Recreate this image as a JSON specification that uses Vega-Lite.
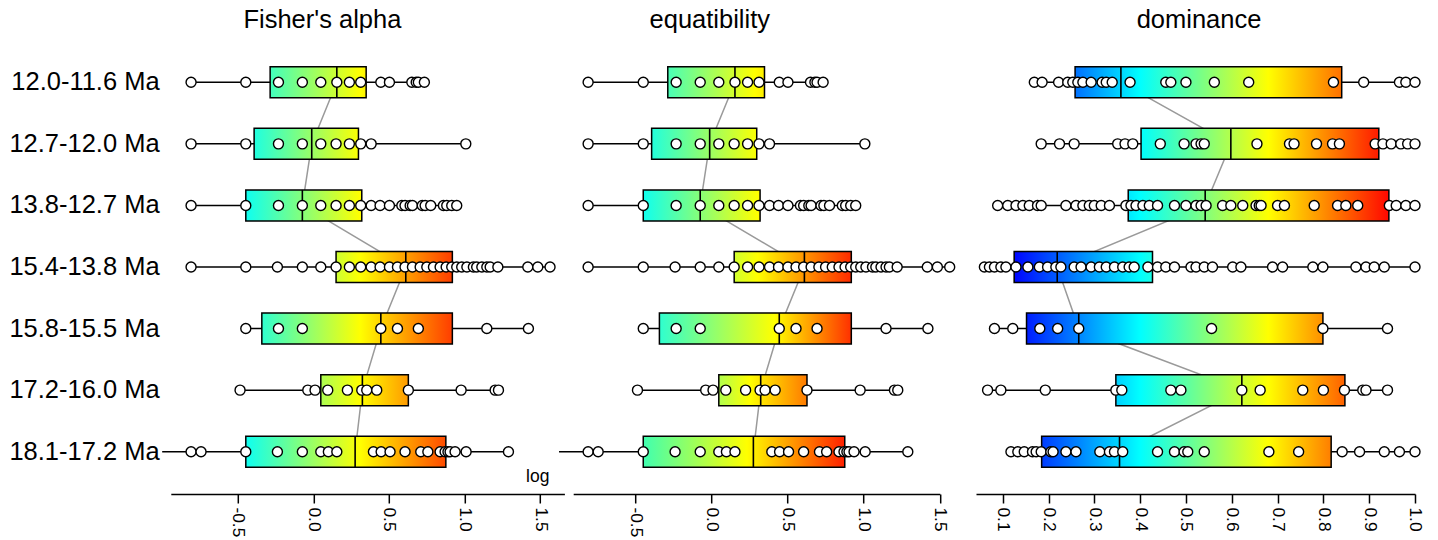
{
  "$schema": "https://vega.github.io/schema/vega-lite/v6.json",
  "padding": {"left": 8.8, "top": 7, "right": 5, "bottom": 0},
  "background": "white",
  "config": {
    "view": {"stroke": null},
    "font": "Liberation Sans",
    "axis": {"grid": false, "domainColor": "black", "domainWidth": 1.5, "tickColor": "black", "tickWidth": 1.5, "tickSize": 9, "labelColor": "black", "labelFont": "Liberation Sans", "labelFontSize": 17.3, "labelPadding": 4, "titleColor": "black"},
    "title": {"font": "Liberation Sans", "fontSize": 25.5, "fontWeight": "normal", "color": "black", "anchor": "middle", "baseline": "alphabetic", "offset": 6.7, "frame": "group"}
  },
  "datasets": {
    "fisherBox": [
      {"row": "12.0-11.6 Ma", "i": 1, "min": -0.809, "q1": -0.286, "median": 0.155, "q3": 0.349, "max": 0.734},
      {"row": "12.7-12.0 Ma", "i": 2, "min": -0.809, "q1": -0.392, "median": -0.011, "q3": 0.298, "max": 1.008},
      {"row": "13.8-12.7 Ma", "i": 3, "min": -0.809, "q1": -0.447, "median": -0.073, "q3": 0.320, "max": 0.948},
      {"row": "15.4-13.8 Ma", "i": 4, "min": -0.809, "q1": 0.150, "median": 0.611, "q3": 0.919, "max": 1.565},
      {"row": "15.8-15.5 Ma", "i": 5, "min": -0.447, "q1": -0.341, "median": 0.446, "q3": 0.919, "max": 1.422},
      {"row": "17.2-16.0 Ma", "i": 6, "min": -0.485, "q1": 0.049, "median": 0.324, "q3": 0.628, "max": 1.224},
      {"row": "18.1-17.2 Ma", "i": 7, "min": -1.0, "q1": -0.447, "median": 0.276, "q3": 0.876, "max": 1.290}
    ],
    "fisherPts": [
      {"row": "12.0-11.6 Ma", "v": -0.809}, {"row": "12.0-11.6 Ma", "v": -0.447}, {"row": "12.0-11.6 Ma", "v": -0.231}, {"row": "12.0-11.6 Ma", "v": -0.073}, {"row": "12.0-11.6 Ma", "v": 0.049}, {"row": "12.0-11.6 Ma", "v": 0.155}, {"row": "12.0-11.6 Ma", "v": 0.238}, {"row": "12.0-11.6 Ma", "v": 0.313}, {"row": "12.0-11.6 Ma", "v": 0.446}, {"row": "12.0-11.6 Ma", "v": 0.503}, {"row": "12.0-11.6 Ma", "v": 0.651}, {"row": "12.0-11.6 Ma", "v": 0.68}, {"row": "12.0-11.6 Ma", "v": 0.694}, {"row": "12.0-11.6 Ma", "v": 0.734},
      {"row": "12.7-12.0 Ma", "v": -0.809}, {"row": "12.7-12.0 Ma", "v": -0.447}, {"row": "12.7-12.0 Ma", "v": -0.231}, {"row": "12.7-12.0 Ma", "v": -0.073}, {"row": "12.7-12.0 Ma", "v": 0.049}, {"row": "12.7-12.0 Ma", "v": 0.150}, {"row": "12.7-12.0 Ma", "v": 0.238}, {"row": "12.7-12.0 Ma", "v": 0.313}, {"row": "12.7-12.0 Ma", "v": 0.382}, {"row": "12.7-12.0 Ma", "v": 1.008},
      {"row": "13.8-12.7 Ma", "v": -0.809}, {"row": "13.8-12.7 Ma", "v": -0.447}, {"row": "13.8-12.7 Ma", "v": -0.231}, {"row": "13.8-12.7 Ma", "v": -0.073}, {"row": "13.8-12.7 Ma", "v": 0.049}, {"row": "13.8-12.7 Ma", "v": 0.150}, {"row": "13.8-12.7 Ma", "v": 0.238}, {"row": "13.8-12.7 Ma", "v": 0.313}, {"row": "13.8-12.7 Ma", "v": 0.382}, {"row": "13.8-12.7 Ma", "v": 0.441}, {"row": "13.8-12.7 Ma", "v": 0.503}, {"row": "13.8-12.7 Ma", "v": 0.585}, {"row": "13.8-12.7 Ma", "v": 0.606}, {"row": "13.8-12.7 Ma", "v": 0.640}, {"row": "13.8-12.7 Ma", "v": 0.655}, {"row": "13.8-12.7 Ma", "v": 0.72}, {"row": "13.8-12.7 Ma", "v": 0.739}, {"row": "13.8-12.7 Ma", "v": 0.776}, {"row": "13.8-12.7 Ma", "v": 0.86}, {"row": "13.8-12.7 Ma", "v": 0.882}, {"row": "13.8-12.7 Ma", "v": 0.915}, {"row": "13.8-12.7 Ma", "v": 0.948},
      {"row": "15.4-13.8 Ma", "v": -0.809}, {"row": "15.4-13.8 Ma", "v": -0.447}, {"row": "15.4-13.8 Ma", "v": -0.238}, {"row": "15.4-13.8 Ma", "v": -0.073}, {"row": "15.4-13.8 Ma", "v": 0.049}, {"row": "15.4-13.8 Ma", "v": 0.150}, {"row": "15.4-13.8 Ma", "v": 0.238}, {"row": "15.4-13.8 Ma", "v": 0.313}, {"row": "15.4-13.8 Ma", "v": 0.382}, {"row": "15.4-13.8 Ma", "v": 0.441}, {"row": "15.4-13.8 Ma", "v": 0.503}, {"row": "15.4-13.8 Ma", "v": 0.556}, {"row": "15.4-13.8 Ma", "v": 0.606}, {"row": "15.4-13.8 Ma", "v": 0.655}, {"row": "15.4-13.8 Ma", "v": 0.706}, {"row": "15.4-13.8 Ma", "v": 0.750}, {"row": "15.4-13.8 Ma", "v": 0.794}, {"row": "15.4-13.8 Ma", "v": 0.838}, {"row": "15.4-13.8 Ma", "v": 0.878}, {"row": "15.4-13.8 Ma", "v": 0.915}, {"row": "15.4-13.8 Ma", "v": 0.948}, {"row": "15.4-13.8 Ma", "v": 0.981}, {"row": "15.4-13.8 Ma", "v": 1.015}, {"row": "15.4-13.8 Ma", "v": 1.058}, {"row": "15.4-13.8 Ma", "v": 1.08}, {"row": "15.4-13.8 Ma", "v": 1.114}, {"row": "15.4-13.8 Ma", "v": 1.147}, {"row": "15.4-13.8 Ma", "v": 1.169}, {"row": "15.4-13.8 Ma", "v": 1.220}, {"row": "15.4-13.8 Ma", "v": 1.418}, {"row": "15.4-13.8 Ma", "v": 1.484}, {"row": "15.4-13.8 Ma", "v": 1.565},
      {"row": "15.8-15.5 Ma", "v": -0.447}, {"row": "15.8-15.5 Ma", "v": -0.231}, {"row": "15.8-15.5 Ma", "v": -0.073}, {"row": "15.8-15.5 Ma", "v": 0.446}, {"row": "15.8-15.5 Ma", "v": 0.556}, {"row": "15.8-15.5 Ma", "v": 0.694}, {"row": "15.8-15.5 Ma", "v": 1.147}, {"row": "15.8-15.5 Ma", "v": 1.422},
      {"row": "17.2-16.0 Ma", "v": -0.485}, {"row": "17.2-16.0 Ma", "v": -0.037}, {"row": "17.2-16.0 Ma", "v": 0.011}, {"row": "17.2-16.0 Ma", "v": 0.095}, {"row": "17.2-16.0 Ma", "v": 0.225}, {"row": "17.2-16.0 Ma", "v": 0.320}, {"row": "17.2-16.0 Ma", "v": 0.353}, {"row": "17.2-16.0 Ma", "v": 0.419}, {"row": "17.2-16.0 Ma", "v": 0.628}, {"row": "17.2-16.0 Ma", "v": 0.977}, {"row": "17.2-16.0 Ma", "v": 1.202}, {"row": "17.2-16.0 Ma", "v": 1.224},
      {"row": "18.1-17.2 Ma", "v": -0.809}, {"row": "18.1-17.2 Ma", "v": -0.743}, {"row": "18.1-17.2 Ma", "v": -0.447}, {"row": "18.1-17.2 Ma", "v": -0.238}, {"row": "18.1-17.2 Ma", "v": -0.073}, {"row": "18.1-17.2 Ma", "v": 0.049}, {"row": "18.1-17.2 Ma", "v": 0.099}, {"row": "18.1-17.2 Ma", "v": 0.155}, {"row": "18.1-17.2 Ma", "v": 0.397}, {"row": "18.1-17.2 Ma", "v": 0.448}, {"row": "18.1-17.2 Ma", "v": 0.507}, {"row": "18.1-17.2 Ma", "v": 0.606}, {"row": "18.1-17.2 Ma", "v": 0.710}, {"row": "18.1-17.2 Ma", "v": 0.757}, {"row": "18.1-17.2 Ma", "v": 0.838}, {"row": "18.1-17.2 Ma", "v": 0.871}, {"row": "18.1-17.2 Ma", "v": 0.89}, {"row": "18.1-17.2 Ma", "v": 0.904}, {"row": "18.1-17.2 Ma", "v": 0.937}, {"row": "18.1-17.2 Ma", "v": 1.010}, {"row": "18.1-17.2 Ma", "v": 1.290}
    ],
    "domBox": [
      {"row": "12.0-11.6 Ma", "i": 1, "min": 0.169, "q1": 0.258, "median": 0.358, "q3": 0.840, "max": 1.0},
      {"row": "12.7-12.0 Ma", "i": 2, "min": 0.184, "q1": 0.402, "median": 0.598, "q3": 0.921, "max": 1.0},
      {"row": "13.8-12.7 Ma", "i": 3, "min": 0.089, "q1": 0.374, "median": 0.542, "q3": 0.943, "max": 1.0},
      {"row": "15.4-13.8 Ma", "i": 4, "min": 0.060, "q1": 0.125, "median": 0.219, "q3": 0.427, "max": 1.0},
      {"row": "15.8-15.5 Ma", "i": 5, "min": 0.082, "q1": 0.152, "median": 0.266, "q3": 0.799, "max": 0.940},
      {"row": "17.2-16.0 Ma", "i": 6, "min": 0.067, "q1": 0.347, "median": 0.622, "q3": 0.847, "max": 0.940},
      {"row": "18.1-17.2 Ma", "i": 7, "min": 0.118, "q1": 0.185, "median": 0.355, "q3": 0.817, "max": 1.0}
    ],
    "domPts": [
      {"row": "12.0-11.6 Ma", "v": 0.169}, {"row": "12.0-11.6 Ma", "v": 0.186}, {"row": "12.0-11.6 Ma", "v": 0.222}, {"row": "12.0-11.6 Ma", "v": 0.242}, {"row": "12.0-11.6 Ma", "v": 0.253}, {"row": "12.0-11.6 Ma", "v": 0.264}, {"row": "12.0-11.6 Ma", "v": 0.275}, {"row": "12.0-11.6 Ma", "v": 0.293}, {"row": "12.0-11.6 Ma", "v": 0.317}, {"row": "12.0-11.6 Ma", "v": 0.326}, {"row": "12.0-11.6 Ma", "v": 0.339}, {"row": "12.0-11.6 Ma", "v": 0.378}, {"row": "12.0-11.6 Ma", "v": 0.456}, {"row": "12.0-11.6 Ma", "v": 0.467}, {"row": "12.0-11.6 Ma", "v": 0.500}, {"row": "12.0-11.6 Ma", "v": 0.562}, {"row": "12.0-11.6 Ma", "v": 0.637}, {"row": "12.0-11.6 Ma", "v": 0.822}, {"row": "12.0-11.6 Ma", "v": 0.888}, {"row": "12.0-11.6 Ma", "v": 0.966}, {"row": "12.0-11.6 Ma", "v": 0.980}, {"row": "12.0-11.6 Ma", "v": 1.0},
      {"row": "12.7-12.0 Ma", "v": 0.184}, {"row": "12.7-12.0 Ma", "v": 0.224}, {"row": "12.7-12.0 Ma", "v": 0.256}, {"row": "12.7-12.0 Ma", "v": 0.351}, {"row": "12.7-12.0 Ma", "v": 0.367}, {"row": "12.7-12.0 Ma", "v": 0.384}, {"row": "12.7-12.0 Ma", "v": 0.444}, {"row": "12.7-12.0 Ma", "v": 0.496}, {"row": "12.7-12.0 Ma", "v": 0.522}, {"row": "12.7-12.0 Ma", "v": 0.533}, {"row": "12.7-12.0 Ma", "v": 0.540}, {"row": "12.7-12.0 Ma", "v": 0.655}, {"row": "12.7-12.0 Ma", "v": 0.726}, {"row": "12.7-12.0 Ma", "v": 0.736}, {"row": "12.7-12.0 Ma", "v": 0.785}, {"row": "12.7-12.0 Ma", "v": 0.820}, {"row": "12.7-12.0 Ma", "v": 0.835}, {"row": "12.7-12.0 Ma", "v": 0.913}, {"row": "12.7-12.0 Ma", "v": 0.930}, {"row": "12.7-12.0 Ma", "v": 0.948}, {"row": "12.7-12.0 Ma", "v": 0.969}, {"row": "12.7-12.0 Ma", "v": 0.984}, {"row": "12.7-12.0 Ma", "v": 1.0},
      {"row": "13.8-12.7 Ma", "v": 0.089}, {"row": "13.8-12.7 Ma", "v": 0.111}, {"row": "13.8-12.7 Ma", "v": 0.129}, {"row": "13.8-12.7 Ma", "v": 0.144}, {"row": "13.8-12.7 Ma", "v": 0.158}, {"row": "13.8-12.7 Ma", "v": 0.176}, {"row": "13.8-12.7 Ma", "v": 0.184}, {"row": "13.8-12.7 Ma", "v": 0.238}, {"row": "13.8-12.7 Ma", "v": 0.260}, {"row": "13.8-12.7 Ma", "v": 0.275}, {"row": "13.8-12.7 Ma", "v": 0.289}, {"row": "13.8-12.7 Ma", "v": 0.300}, {"row": "13.8-12.7 Ma", "v": 0.315}, {"row": "13.8-12.7 Ma", "v": 0.333}, {"row": "13.8-12.7 Ma", "v": 0.369}, {"row": "13.8-12.7 Ma", "v": 0.380}, {"row": "13.8-12.7 Ma", "v": 0.391}, {"row": "13.8-12.7 Ma", "v": 0.406}, {"row": "13.8-12.7 Ma", "v": 0.420}, {"row": "13.8-12.7 Ma", "v": 0.438}, {"row": "13.8-12.7 Ma", "v": 0.475}, {"row": "13.8-12.7 Ma", "v": 0.500}, {"row": "13.8-12.7 Ma", "v": 0.522}, {"row": "13.8-12.7 Ma", "v": 0.533}, {"row": "13.8-12.7 Ma", "v": 0.544}, {"row": "13.8-12.7 Ma", "v": 0.580}, {"row": "13.8-12.7 Ma", "v": 0.598}, {"row": "13.8-12.7 Ma", "v": 0.624}, {"row": "13.8-12.7 Ma", "v": 0.653}, {"row": "13.8-12.7 Ma", "v": 0.660}, {"row": "13.8-12.7 Ma", "v": 0.664}, {"row": "13.8-12.7 Ma", "v": 0.700}, {"row": "13.8-12.7 Ma", "v": 0.715}, {"row": "13.8-12.7 Ma", "v": 0.780}, {"row": "13.8-12.7 Ma", "v": 0.831}, {"row": "13.8-12.7 Ma", "v": 0.849}, {"row": "13.8-12.7 Ma", "v": 0.875}, {"row": "13.8-12.7 Ma", "v": 0.944}, {"row": "13.8-12.7 Ma", "v": 0.959}, {"row": "13.8-12.7 Ma", "v": 0.980}, {"row": "13.8-12.7 Ma", "v": 1.0},
      {"row": "15.4-13.8 Ma", "v": 0.060}, {"row": "15.4-13.8 Ma", "v": 0.071}, {"row": "15.4-13.8 Ma", "v": 0.082}, {"row": "15.4-13.8 Ma", "v": 0.096}, {"row": "15.4-13.8 Ma", "v": 0.107}, {"row": "15.4-13.8 Ma", "v": 0.129}, {"row": "15.4-13.8 Ma", "v": 0.155}, {"row": "15.4-13.8 Ma", "v": 0.180}, {"row": "15.4-13.8 Ma", "v": 0.198}, {"row": "15.4-13.8 Ma", "v": 0.216}, {"row": "15.4-13.8 Ma", "v": 0.227}, {"row": "15.4-13.8 Ma", "v": 0.256}, {"row": "15.4-13.8 Ma", "v": 0.271}, {"row": "15.4-13.8 Ma", "v": 0.293}, {"row": "15.4-13.8 Ma", "v": 0.311}, {"row": "15.4-13.8 Ma", "v": 0.326}, {"row": "15.4-13.8 Ma", "v": 0.344}, {"row": "15.4-13.8 Ma", "v": 0.362}, {"row": "15.4-13.8 Ma", "v": 0.376}, {"row": "15.4-13.8 Ma", "v": 0.387}, {"row": "15.4-13.8 Ma", "v": 0.417}, {"row": "15.4-13.8 Ma", "v": 0.438}, {"row": "15.4-13.8 Ma", "v": 0.456}, {"row": "15.4-13.8 Ma", "v": 0.475}, {"row": "15.4-13.8 Ma", "v": 0.511}, {"row": "15.4-13.8 Ma", "v": 0.522}, {"row": "15.4-13.8 Ma", "v": 0.540}, {"row": "15.4-13.8 Ma", "v": 0.558}, {"row": "15.4-13.8 Ma", "v": 0.602}, {"row": "15.4-13.8 Ma", "v": 0.620}, {"row": "15.4-13.8 Ma", "v": 0.689}, {"row": "15.4-13.8 Ma", "v": 0.711}, {"row": "15.4-13.8 Ma", "v": 0.777}, {"row": "15.4-13.8 Ma", "v": 0.799}, {"row": "15.4-13.8 Ma", "v": 0.871}, {"row": "15.4-13.8 Ma", "v": 0.893}, {"row": "15.4-13.8 Ma", "v": 0.911}, {"row": "15.4-13.8 Ma", "v": 0.933}, {"row": "15.4-13.8 Ma", "v": 1.0},
      {"row": "15.8-15.5 Ma", "v": 0.082}, {"row": "15.8-15.5 Ma", "v": 0.122}, {"row": "15.8-15.5 Ma", "v": 0.181}, {"row": "15.8-15.5 Ma", "v": 0.220}, {"row": "15.8-15.5 Ma", "v": 0.266}, {"row": "15.8-15.5 Ma", "v": 0.556}, {"row": "15.8-15.5 Ma", "v": 0.799}, {"row": "15.8-15.5 Ma", "v": 0.940},
      {"row": "17.2-16.0 Ma", "v": 0.067}, {"row": "17.2-16.0 Ma", "v": 0.096}, {"row": "17.2-16.0 Ma", "v": 0.193}, {"row": "17.2-16.0 Ma", "v": 0.347}, {"row": "17.2-16.0 Ma", "v": 0.360}, {"row": "17.2-16.0 Ma", "v": 0.467}, {"row": "17.2-16.0 Ma", "v": 0.489}, {"row": "17.2-16.0 Ma", "v": 0.622}, {"row": "17.2-16.0 Ma", "v": 0.662}, {"row": "17.2-16.0 Ma", "v": 0.755}, {"row": "17.2-16.0 Ma", "v": 0.800}, {"row": "17.2-16.0 Ma", "v": 0.846}, {"row": "17.2-16.0 Ma", "v": 0.886}, {"row": "17.2-16.0 Ma", "v": 0.893}, {"row": "17.2-16.0 Ma", "v": 0.940},
      {"row": "18.1-17.2 Ma", "v": 0.118}, {"row": "18.1-17.2 Ma", "v": 0.133}, {"row": "18.1-17.2 Ma", "v": 0.147}, {"row": "18.1-17.2 Ma", "v": 0.165}, {"row": "18.1-17.2 Ma", "v": 0.173}, {"row": "18.1-17.2 Ma", "v": 0.184}, {"row": "18.1-17.2 Ma", "v": 0.205}, {"row": "18.1-17.2 Ma", "v": 0.210}, {"row": "18.1-17.2 Ma", "v": 0.238}, {"row": "18.1-17.2 Ma", "v": 0.260}, {"row": "18.1-17.2 Ma", "v": 0.312}, {"row": "18.1-17.2 Ma", "v": 0.333}, {"row": "18.1-17.2 Ma", "v": 0.344}, {"row": "18.1-17.2 Ma", "v": 0.362}, {"row": "18.1-17.2 Ma", "v": 0.438}, {"row": "18.1-17.2 Ma", "v": 0.475}, {"row": "18.1-17.2 Ma", "v": 0.496}, {"row": "18.1-17.2 Ma", "v": 0.504}, {"row": "18.1-17.2 Ma", "v": 0.540}, {"row": "18.1-17.2 Ma", "v": 0.681}, {"row": "18.1-17.2 Ma", "v": 0.746}, {"row": "18.1-17.2 Ma", "v": 0.841}, {"row": "18.1-17.2 Ma", "v": 0.879}, {"row": "18.1-17.2 Ma", "v": 0.933}, {"row": "18.1-17.2 Ma", "v": 0.966}, {"row": "18.1-17.2 Ma", "v": 1.0}
    ]
  },
  "bounds": "flush",
  "spacing": 8.4,
  "hconcat": [
    {
      "width": 393.6,
      "height": 454,
      "title": {"text": "Fisher's alpha", "dx": -45.2},
      "encoding": {
        "y": {"field": "row", "type": "nominal", "sort": null,
          "scale": {"type": "band", "domain": ["12.0-11.6 Ma", "12.7-12.0 Ma", "13.8-12.7 Ma", "15.4-13.8 Ma", "15.8-15.5 Ma", "17.2-16.0 Ma", "18.1-17.2 Ma"], "paddingInner": 0.4965, "paddingOuter": 0.435},
          "axis": {"title": null, "ticks": false, "domain": false, "labelFontSize": 25.5, "labelPadding": 11.7, "labelLimit": 0, "labelColor": "black"}}
      },
      "layer": [
        {"data": {"name": "fisherBox"}, "mark": {"type": "rule", "stroke": "black", "strokeWidth": 1.5},
          "encoding": {"x": {"field": "min", "type": "quantitative", "scale": {"domain": [-0.943, 1.66], "nice": false, "zero": false},
            "axis": {"title": null, "values": [-0.5, 0, 0.5, 1, 1.5], "labelExpr": "(datum.value < 0 ? '-' : '') + format(abs(datum.value), '.1f')", "labelAngle": 90, "labelOverlap": false, "labelFlush": false}},
            "x2": {"field": "max"}}},
        {"data": {"name": "fisherBox"}, "mark": {"type": "line", "stroke": "#9a9a9a", "strokeWidth": 1.5},
          "encoding": {"x": {"field": "median", "type": "quantitative"}, "order": {"field": "i", "type": "quantitative"}}},
        {"data": {"name": "fisherBox"}, "mark": {"type": "bar", "stroke": "black", "strokeWidth": 1.5},
          "encoding": {"x": {"field": "q1", "type": "quantitative"}, "x2": {"field": "q3"},
            "fill": {"condition": [
              {"test": "datum.i === 1", "value": {"gradient": "linear", "x1": 0, "y1": 0, "x2": 1, "y2": 0, "stops": [{"offset": 0, "color": "#41ffbe"}, {"offset": 0.939, "color": "#ffff00"}, {"offset": 1, "color": "#fff300"}]}},
              {"test": "datum.i === 2", "value": {"gradient": "linear", "x1": 0, "y1": 0, "x2": 1, "y2": 0, "stops": [{"offset": 0, "color": "#1fffe0"}, {"offset": 1, "color": "#fbff04"}]}},
              {"test": "datum.i === 3", "value": {"gradient": "linear", "x1": 0, "y1": 0, "x2": 1, "y2": 0, "stops": [{"offset": 0, "color": "#0efff1"}, {"offset": 0.987, "color": "#ffff00"}, {"offset": 1, "color": "#fffc00"}]}},
              {"test": "datum.i === 4", "value": {"gradient": "linear", "x1": 0, "y1": 0, "x2": 1, "y2": 0, "stops": [{"offset": 0, "color": "#ccff33"}, {"offset": 0.208, "color": "#ffff00"}, {"offset": 1, "color": "#ff3d00"}]}},
              {"test": "datum.i === 5", "value": {"gradient": "linear", "x1": 0, "y1": 0, "x2": 1, "y2": 0, "stops": [{"offset": 0, "color": "#2fffd0"}, {"offset": 0.517, "color": "#ffff00"}, {"offset": 1, "color": "#ff3d00"}]}},
              {"test": "datum.i === 6", "value": {"gradient": "linear", "x1": 0, "y1": 0, "x2": 1, "y2": 0, "stops": [{"offset": 0, "color": "#acff53"}, {"offset": 0.451, "color": "#ffff00"}, {"offset": 1, "color": "#ff9a00"}]}}
            ], "value": {"gradient": "linear", "x1": 0, "y1": 0, "x2": 1, "y2": 0, "stops": [{"offset": 0, "color": "#0efff1"}, {"offset": 0.572, "color": "#ffff00"}, {"offset": 1, "color": "#ff4b00"}]}}}},
        {"data": {"name": "fisherBox"}, "mark": {"type": "tick", "color": "black", "thickness": 1.6, "size": 31, "opacity": 1},
          "encoding": {"x": {"field": "median", "type": "quantitative"}}},
        {"data": {"name": "fisherPts"}, "mark": {"type": "circle", "fill": "white", "stroke": "black", "strokeWidth": 1.4, "size": 100, "opacity": 1},
          "encoding": {"x": {"field": "v", "type": "quantitative"}}},
        {"data": {"values": [{}]}, "mark": {"type": "text", "text": "log", "fontSize": 17.5, "align": "right", "baseline": "alphabetic", "dy": 30, "color": "black"},
          "encoding": {"x": {"datum": 1.561}, "y": {"datum": "18.1-17.2 Ma"}}}
      ]
    },
    {
      "width": 366.6,
      "height": 454,
      "title": {"text": "equatibility", "dx": -46.7},
      "encoding": {
        "y": {"field": "row", "type": "nominal", "sort": null,
          "scale": {"type": "band", "domain": ["12.0-11.6 Ma", "12.7-12.0 Ma", "13.8-12.7 Ma", "15.4-13.8 Ma", "15.8-15.5 Ma", "17.2-16.0 Ma", "18.1-17.2 Ma"], "paddingInner": 0.4965, "paddingOuter": 0.435},
          "axis": null}
      },
      "layer": [
        {"data": {"name": "fisherBox"}, "mark": {"type": "rule", "stroke": "black", "strokeWidth": 1.5},
          "encoding": {"x": {"field": "min", "type": "quantitative", "scale": {"domain": [-0.907, 1.5], "nice": false, "zero": false},
            "axis": {"title": null, "values": [-0.5, 0, 0.5, 1, 1.5], "labelExpr": "(datum.value < 0 ? '-' : '') + format(abs(datum.value), '.1f')", "labelAngle": 90, "labelOverlap": false, "labelFlush": false}},
            "x2": {"field": "max"}}},
        {"data": {"name": "fisherBox"}, "mark": {"type": "line", "stroke": "#9a9a9a", "strokeWidth": 1.5},
          "encoding": {"x": {"field": "median", "type": "quantitative"}, "order": {"field": "i", "type": "quantitative"}}},
        {"data": {"name": "fisherBox"}, "mark": {"type": "bar", "stroke": "black", "strokeWidth": 1.5},
          "encoding": {"x": {"field": "q1", "type": "quantitative"}, "x2": {"field": "q3"},
            "fill": {"condition": [
              {"test": "datum.i === 1", "value": {"gradient": "linear", "x1": 0, "y1": 0, "x2": 1, "y2": 0, "stops": [{"offset": 0, "color": "#48ffb8"}, {"offset": 0.9, "color": "#ffff00"}, {"offset": 1, "color": "#ffee00"}]}},
              {"test": "datum.i === 2", "value": {"gradient": "linear", "x1": 0, "y1": 0, "x2": 1, "y2": 0, "stops": [{"offset": 0, "color": "#22ffdc"}, {"offset": 1, "color": "#fbff04"}]}},
              {"test": "datum.i === 3", "value": {"gradient": "linear", "x1": 0, "y1": 0, "x2": 1, "y2": 0, "stops": [{"offset": 0, "color": "#10ffee"}, {"offset": 0.98, "color": "#ffff00"}, {"offset": 1, "color": "#fffa00"}]}},
              {"test": "datum.i === 4", "value": {"gradient": "linear", "x1": 0, "y1": 0, "x2": 1, "y2": 0, "stops": [{"offset": 0, "color": "#d0ff2f"}, {"offset": 0.2, "color": "#ffff00"}, {"offset": 1, "color": "#ff2a00"}]}},
              {"test": "datum.i === 5", "value": {"gradient": "linear", "x1": 0, "y1": 0, "x2": 1, "y2": 0, "stops": [{"offset": 0, "color": "#2fffd0"}, {"offset": 0.6, "color": "#ffff00"}, {"offset": 1, "color": "#ff3000"}]}},
              {"test": "datum.i === 6", "value": {"gradient": "linear", "x1": 0, "y1": 0, "x2": 1, "y2": 0, "stops": [{"offset": 0, "color": "#b0ff4f"}, {"offset": 0.35, "color": "#ffff00"}, {"offset": 1, "color": "#ff7a00"}]}}
            ], "value": {"gradient": "linear", "x1": 0, "y1": 0, "x2": 1, "y2": 0, "stops": [{"offset": 0, "color": "#40ffb0"}, {"offset": 0.515, "color": "#ffff00"}, {"offset": 1, "color": "#ff2000"}]}}}},
        {"data": {"name": "fisherBox"}, "mark": {"type": "tick", "color": "black", "thickness": 1.6, "size": 31, "opacity": 1},
          "encoding": {"x": {"field": "median", "type": "quantitative"}}},
        {"data": {"name": "fisherPts"}, "mark": {"type": "circle", "fill": "white", "stroke": "black", "strokeWidth": 1.4, "size": 100, "opacity": 1},
          "encoding": {"x": {"field": "v", "type": "quantitative"}}}
      ]
    },
    {
      "width": 18.9,
      "height": 454,
      "data": {"values": []},
      "mark": {"type": "point", "opacity": 0},
      "encoding": {}
    },
    {
      "width": 439,
      "height": 454,
      "title": {"text": "dominance", "dx": 3.5},
      "encoding": {
        "y": {"field": "row", "type": "nominal", "sort": null,
          "scale": {"type": "band", "domain": ["12.0-11.6 Ma", "12.7-12.0 Ma", "13.8-12.7 Ma", "15.4-13.8 Ma", "15.8-15.5 Ma", "17.2-16.0 Ma", "18.1-17.2 Ma"], "paddingInner": 0.4965, "paddingOuter": 0.435},
          "axis": null}
      },
      "layer": [
        {"data": {"name": "domBox"}, "mark": {"type": "rule", "stroke": "black", "strokeWidth": 1.5},
          "encoding": {"x": {"field": "min", "type": "quantitative", "scale": {"domain": [0.0417, 1.0], "nice": false, "zero": false},
            "axis": {"title": null, "values": [0.1, 0.2, 0.3, 0.4, 0.5, 0.6, 0.7, 0.8, 0.9, 1.0], "format": ".1f", "labelAngle": 90, "labelOverlap": false, "labelFlush": false}},
            "x2": {"field": "max"}}},
        {"data": {"name": "domBox"}, "mark": {"type": "line", "stroke": "#9a9a9a", "strokeWidth": 1.5},
          "encoding": {"x": {"field": "median", "type": "quantitative"}, "order": {"field": "i", "type": "quantitative"}}},
        {"data": {"name": "domBox"}, "mark": {"type": "bar", "stroke": "black", "strokeWidth": 1.5},
          "encoding": {"x": {"field": "q1", "type": "quantitative"}, "x2": {"field": "q3"},
            "fill": {"condition": [
              {"test": "datum.i === 1", "value": {"gradient": "linear", "x1": 0, "y1": 0, "x2": 1, "y2": 0, "stops": [{"offset": 0, "color": "#0070ff"}, {"offset": 0.244, "color": "#00ffff"}, {"offset": 0.725, "color": "#ffff00"}, {"offset": 1, "color": "#ff7000"}]}},
              {"test": "datum.i === 2", "value": {"gradient": "linear", "x1": 0, "y1": 0, "x2": 1, "y2": 0, "stops": [{"offset": 0, "color": "#00fffd"}, {"offset": 0.536, "color": "#ffff00"}, {"offset": 1, "color": "#ff1b00"}]}},
              {"test": "datum.i === 3", "value": {"gradient": "linear", "x1": 0, "y1": 0, "x2": 1, "y2": 0, "stops": [{"offset": 0, "color": "#00e7ff"}, {"offset": 0.046, "color": "#00ffff"}, {"offset": 0.538, "color": "#ffff00"}, {"offset": 1, "color": "#ff0700"}]}},
              {"test": "datum.i === 4", "value": {"gradient": "linear", "x1": 0, "y1": 0, "x2": 1, "y2": 0, "stops": [{"offset": 0, "color": "#0005ff"}, {"offset": 0.911, "color": "#00ffff"}, {"offset": 1, "color": "#19ffe6"}]}},
              {"test": "datum.i === 5", "value": {"gradient": "linear", "x1": 0, "y1": 0, "x2": 1, "y2": 0, "stops": [{"offset": 0, "color": "#001dff"}, {"offset": 0.383, "color": "#00ffff"}, {"offset": 0.816, "color": "#ffff00"}, {"offset": 1, "color": "#ff8f00"}]}},
              {"test": "datum.i === 6", "value": {"gradient": "linear", "x1": 0, "y1": 0, "x2": 1, "y2": 0, "stops": [{"offset": 0, "color": "#00cfff"}, {"offset": 0.106, "color": "#00ffff"}, {"offset": 0.666, "color": "#ffff00"}, {"offset": 1, "color": "#ff6100"}]}}
            ], "value": {"gradient": "linear", "x1": 0, "y1": 0, "x2": 1, "y2": 0, "stops": [{"offset": 0, "color": "#003bff"}, {"offset": 0.34, "color": "#00ffff"}, {"offset": 0.783, "color": "#ffff00"}, {"offset": 1, "color": "#ff7e00"}]}}}},
        {"data": {"name": "domBox"}, "mark": {"type": "tick", "color": "black", "thickness": 1.6, "size": 31, "opacity": 1},
          "encoding": {"x": {"field": "median", "type": "quantitative"}}},
        {"data": {"name": "domPts"}, "mark": {"type": "circle", "fill": "white", "stroke": "black", "strokeWidth": 1.4, "size": 100, "opacity": 1},
          "encoding": {"x": {"field": "v", "type": "quantitative"}}}
      ]
    }
  ]
}
